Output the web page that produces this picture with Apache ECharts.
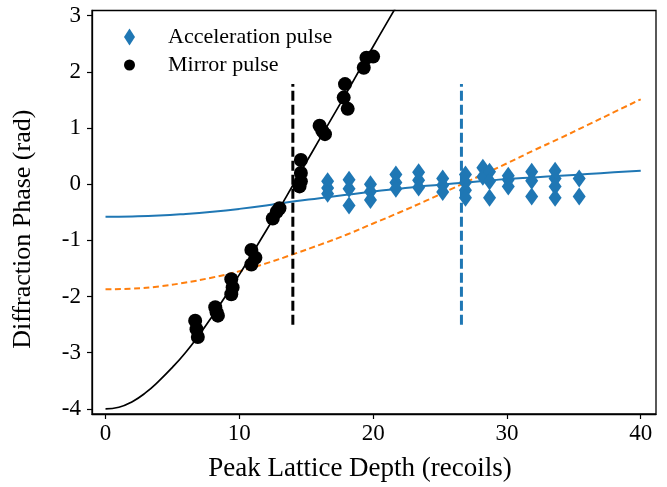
<!DOCTYPE html>
<html>
<head>
<meta charset="utf-8">
<script src="https://cdn.jsdelivr.net/npm/echarts@6/dist/echarts.min.js"></script>
<style>
  html, body { margin: 0; padding: 0; background: #fff; }
  #chart { width: 667px; height: 487px; }
</style>
</head>
<body>
<div id="chart"></div>
<script>
// measured points, acceleration pulse (blue diamonds)
var accelDepth = [16.6, 16.6, 16.6, 18.2, 18.2, 18.2, 19.8, 19.8, 19.8, 21.7, 21.7, 21.7,
    23.4, 23.4, 23.4, 25.2, 25.2, 25.2, 26.9, 26.9, 26.9, 26.9, 28.2, 28.2,
    28.7, 28.7, 28.7, 30.1, 30.1, 30.1, 31.85, 31.85, 31.85, 33.6, 33.6, 33.6, 33.6, 35.4, 35.4];
var accelPhase = [0.05, -0.07, -0.17, 0.08, -0.08, -0.38, 0.0, -0.13, -0.28, 0.17, 0.03, -0.08,
    0.21, 0.07, -0.06, 0.10, -0.02, -0.14, 0.17, 0.03, -0.11, -0.24, 0.29, 0.13,
    0.22, 0.05, -0.24, 0.15, 0.08, -0.04, 0.22, 0.06, -0.22, 0.24, 0.10, -0.04, -0.24, 0.10, -0.22];

// measured points, mirror pulse (black circles)
var mirrorDepth = [6.7, 6.8, 6.9, 8.2, 8.3, 8.4, 9.4, 9.5, 9.4, 10.9, 11.2, 10.9,
    12.5, 12.8, 13.0, 14.6, 14.6, 14.6, 14.5, 16.0, 16.2, 16.4, 17.9, 17.8, 18.1, 19.3, 19.5, 20.0];
var mirrorPhase = [-2.43, -2.58, -2.72, -2.19, -2.28, -2.34, -1.69, -1.84, -1.96, -1.17, -1.31, -1.43,
    -0.61, -0.49, -0.43, 0.43, 0.20, 0.05, -0.04, 1.04, 0.95, 0.89, 1.78, 1.54, 1.34, 2.07, 2.25, 2.27];

// model curves
var modelDepth = [0, 2, 4, 6, 8, 10, 12, 14, 16, 18, 20, 22, 24, 26, 28, 30, 32, 34, 36, 38, 40];
var accelModel = [-0.58, -0.575, -0.56, -0.53, -0.49, -0.44, -0.38, -0.31, -0.25, -0.19, -0.13,
    -0.08, -0.03, 0.01, 0.05, 0.09, 0.12, 0.15, 0.18, 0.21, 0.24];
var orangeModel = [-1.87, -1.86, -1.82, -1.75, -1.66, -1.55, -1.41, -1.25, -1.08, -0.90, -0.70,
    -0.50, -0.29, -0.07, 0.15, 0.37, 0.60, 0.82, 1.05, 1.28, 1.51];
var mirrorModelDepth = [0, 1, 2, 3, 4, 5, 6, 7, 8, 9, 10, 11, 12, 13, 14, 15, 16, 17, 18, 19, 20, 21, 22];
var mirrorModel = [-4.0, -3.97, -3.87, -3.71, -3.5, -3.26, -2.99, -2.68, -2.34, -1.98, -1.61, -1.22,
    -0.83, -0.43, -0.02, 0.39, 0.8, 1.21, 1.62, 2.04, 2.45, 2.86, 3.27];

// vertical markers
var mirrorMark = 14.0;
var accelMark = 26.6;
var markSpan = [-2.5, 1.78];

var xTicks = [0, 10, 20, 30, 40];
var yTicks = [-4, -3, -2, -1, 0, 1, 2, 3];

function pairs(xs, ys) {
    return xs.map(function (x, i) { return [x, ys[i]]; });
}

var font = 'Liberation Serif';
var chart = echarts.init(document.getElementById('chart'));

var option = {
    animation: false,
    grid: {
        left: 92, right: 11, top: 10.5, bottom: 69.5,
        show: true, borderColor: '#000', borderWidth: 1.3
    },
    legend: {
        orient: 'vertical',
        left: 124, top: 26,
        padding: 0,
        itemWidth: 11, itemHeight: 17, itemGap: 6,
        selectedMode: false,
        textStyle: { fontFamily: font, fontSize: 22, color: '#000', padding: [0, 0, 0, 28] },
        data: [
            { name: 'Acceleration pulse', icon: 'diamond' },
            { name: 'Mirror pulse', icon: 'circle' }
        ]
    },
    xAxis: {
        type: 'value',
        min: -1.01, max: 41.14,
        name: 'Peak Lattice Depth (recoils)',
        nameLocation: 'middle', nameGap: 41,
        nameTextStyle: { fontFamily: font, fontSize: 27, color: '#000', padding: [0, 28, 0, 0] },
        splitLine: { show: false },
        axisLine: { onZero: false, lineStyle: { color: '#000', width: 1.3 } },
        axisTick: { length: 5, lineStyle: { color: '#000', width: 1.2 }, customValues: xTicks },
        axisLabel: { fontFamily: font, fontSize: 23, color: '#000', margin: 8, customValues: xTicks }
    },
    yAxis: {
        type: 'value',
        min: -4.09, max: 3.09,
        name: 'Diffraction Phase (rad)',
        nameLocation: 'middle', nameGap: 56,
        nameTextStyle: { fontFamily: font, fontSize: 26, color: '#000', padding: [0, 34, 0, 0] },
        splitLine: { show: false },
        axisLine: { onZero: false, lineStyle: { color: '#000', width: 1.3 } },
        axisTick: { length: 5, lineStyle: { color: '#000', width: 1.2 }, customValues: yTicks },
        axisLabel: { fontFamily: font, fontSize: 23, color: '#000', margin: 11, customValues: yTicks }
    },
    series: [
        {
            name: 'accel model', type: 'line', data: pairs(modelDepth, accelModel),
            symbol: 'none', smooth: true, z: 2,
            lineStyle: { color: '#1f77b4', width: 2 }
        },
        {
            name: 'orange model', type: 'line', data: pairs(modelDepth, orangeModel),
            symbol: 'none', smooth: true, z: 2,
            lineStyle: { color: '#ff7f0e', width: 2, type: [6, 3.5] }
        },
        {
            name: 'mirror model', type: 'line', data: pairs(mirrorModelDepth, mirrorModel),
            symbol: 'none', smooth: true, z: 2,
            lineStyle: { color: '#000', width: 1.7 }
        },
        {
            name: 'mirror mark', type: 'line',
            data: [[mirrorMark, markSpan[0]], [mirrorMark, markSpan[1]]],
            symbol: 'none', z: 3,
            lineStyle: { color: '#000', width: 3, type: [10, 4] }
        },
        {
            name: 'accel mark', type: 'line',
            data: [[accelMark, markSpan[0]], [accelMark, markSpan[1]]],
            symbol: 'none', z: 3,
            lineStyle: { color: '#1f77b4', width: 3, type: [10, 4] }
        },
        {
            name: 'Acceleration pulse', type: 'scatter', data: pairs(accelDepth, accelPhase),
            symbol: 'diamond', symbolSize: [13, 18], z: 4,
            itemStyle: { color: '#1f77b4', opacity: 1 }
        },
        {
            name: 'Mirror pulse', type: 'scatter', data: pairs(mirrorDepth, mirrorPhase),
            symbol: 'circle', symbolSize: 14, z: 4,
            itemStyle: { color: '#000', opacity: 1 }
        }
    ]
};

chart.setOption(option);
</script>
</body>
</html>
